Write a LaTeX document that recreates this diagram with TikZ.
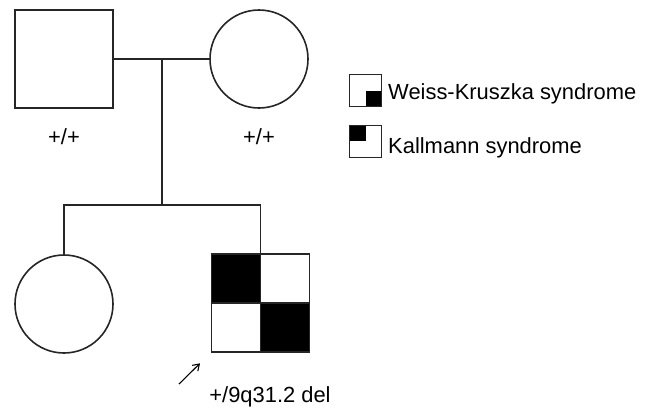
\documentclass[tikz,border=0pt]{standalone}
\usepackage{fontspec}
\setmainfont{Liberation Sans}
\usetikzlibrary{calc,arrows.meta}

\tikzset{
  ped/.style={draw=black!85, line width=1.6bp, fill=white, inner sep=0pt, minimum size=98bp},
  male/.style={ped, rectangle},
  female/.style={ped, circle},
  key/.style={draw=black!85, line width=1bp, rectangle, inner sep=0pt, minimum size=32bp},
  lbl/.style={font=\fontsize{22}{26}\selectfont, inner sep=0pt}
}

\begin{document}
\begin{tikzpicture}[x=1bp, y=-1bp]
			%%%%% START %%%%%
			\useasboundingbox (0,0) rectangle (659,407);
			
			\node[male] (father) at (64, 59) {};
			\node[female] (mother) at (259, 59) {};
			\node[lbl, anchor=base] (gfather) at (64, 144) {+/+};
			\node[lbl, anchor=base] (gmother) at (259, 144) {+/+};
			
			\coordinate (mate) at (162, 59);
			\coordinate (sib) at (162, 205);
			\draw[line width=1.6bp, black!85] (father) -- (mother);
			\draw[line width=1.6bp, black!85] (mate) -- (sib);
			
			\node[female] (daughter) at (64, 304) {};
			\node[male, path picture={
				\fill[black] (path picture bounding box.north west) rectangle (path picture bounding box.center);
				\fill[black] (path picture bounding box.center) rectangle (path picture bounding box.south east);
			}] (son) at (260.5, 303) {};
			\draw[line width=1.6bp, black!85] (son.north) -- (son.south);
			\draw[line width=1.6bp, black!85] (son.west) -- (son.east);
			\draw[line width=1.6bp, black!85] (daughter) |- (sib) -| (son);
			
			\node[lbl, anchor=base] (gson) at (270, 402) {+/9q31.2 del};
			\coordinate (tail) at (179, 384);
			\draw[line width=1.1bp, -{Straight Barb[length=6bp, width=8bp]}, shorten >=15bp] (tail) -- (son.south west);
			
			% legend
			\node[key, path picture={
				\fill[black] (path picture bounding box.center) rectangle (path picture bounding box.south east);
			}] (keyws) at (365.5, 90.5) {};
			\node[key, path picture={
				\fill[black] (path picture bounding box.north west) rectangle (path picture bounding box.center);
			}] (keyks) at (365.5, 141) {};
			\node[lbl, anchor=base west] (txtws) at (388, 99) {Weiss-Kruszka syndrome};
			\node[lbl, anchor=base west] (txtks) at (388, 153) {Kallmann syndrome};
			%%%%% END %%%%%
\end{tikzpicture}
\end{document}
